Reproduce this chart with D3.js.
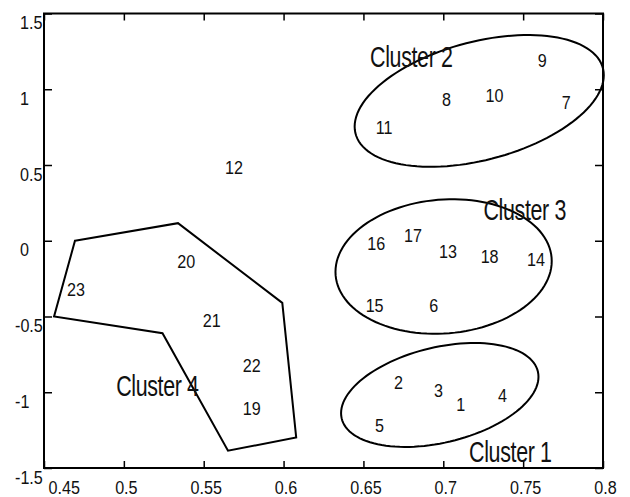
<!DOCTYPE html>
<html>
<head>
<meta charset="utf-8">
<script src="https://cdn.jsdelivr.net/npm/d3@7"></script>
<style>
  body { margin: 0; background: #fff; }
  text { font-family: "Liberation Sans", Arial, sans-serif; fill: #111; }
</style>
</head>
<body>
<div id="chart"></div>
<script>
// point labels and their positions
const pointIds = ["1","2","3","4","5","6","7","8","9","10","11","12","13","14","15","16","17","18","19","20","21","22","23"];
const pointX = [0.711,0.672,0.697,0.737,0.660,0.694,0.777,0.702,0.762,0.732,0.663,0.569,0.703,0.758,0.657,0.658,0.681,0.729,0.580,0.539,0.555,0.580,0.470];
const pointY = [-1.076,-0.933,-0.988,-1.017,-1.214,-0.423,0.914,0.936,1.189,0.962,0.753,0.485,-0.067,-0.119,-0.423,-0.016,0.039,-0.104,-1.104,-0.133,-0.526,-0.819,-0.319];

// cluster names and label positions
const clusterNames = ["Cluster 1","Cluster 2","Cluster 3","Cluster 4"];
const clusterLabelX = [0.742,0.680,0.751,0.521];
const clusterLabelY = [-1.391,1.215,0.204,-0.955];

// ellipses for clusters 1-3 : centre, half widths, tilt (cos of phase)
const ellipseCx = [0.6978,0.7225,0.7002];
const ellipseCy = [-1.018,0.923,-0.170];
const ellipseAx = [0.0618,0.078,0.0677];
const ellipseAy = [0.343,0.435,0.444];
const ellipseTilt = [0.35,0.39,0.08];

// polygon for cluster 4
const hullX = [0.4694,0.5339,0.5992,0.6079,0.5652,0.5242,0.4563];
const hullY = [0.0,0.116,-0.41,-1.298,-1.386,-0.61,-0.5];

const xTicks = [0.45,0.5,0.55,0.6,0.65,0.7,0.75,0.8];
const yTicks = [-1.5,-1,-0.5,0,0.5,1,1.5];

const margin = {top: 13.5, right: 27, bottom: 29, left: 44},
  width = 630 - margin.left - margin.right,
  height = 497 - margin.top - margin.bottom;

// narrow look of the original font
const squeeze = 0.85,
  squeezeBig = 0.74;

const svg = d3.select("#chart")
  .append("svg")
    .attr("width", 630)
    .attr("height", 497)
  .append("g")
    .attr("transform", "translate(" + margin.left + "," + margin.top + ")");

const x = d3.scaleLinear().domain([0.45, 0.8]).range([0, width]);
const y = d3.scaleLinear().domain([-1.5, 1.5]).range([height, 0]);

const fmt = function (d) { return String(d); };

// axes, ticks pointing inward
let xAxis = svg.append("g")
  .attr("transform", `translate(0, ${height})`)
  .call(d3.axisBottom(x).tickValues(xTicks).tickSizeInner(-7).tickSizeOuter(0).tickPadding(12.5).tickFormat(fmt));
xAxis.selectAll("text")
  .style("font-size", "19px")
  .attr("text-anchor", function (d, i) { return i == 0 ? "start" : "middle"; })
  .attr("x", 0)
  .attr("transform", function (d, i) { return "translate(" + (i == 0 ? 4 : 2) + ",0) scale(" + squeeze + ",1)"; });

let yAxis = svg.append("g")
  .call(d3.axisLeft(y).tickValues(yTicks).tickSizeInner(-8).tickSizeOuter(0).tickFormat(fmt));
yAxis.selectAll("text")
  .style("font-size", "19px")
  .attr("text-anchor", "start")
  .attr("x", 0)
  .attr("dy", 15)
  .attr("transform", function (d) { return "translate(" + (d < 0 ? -29 : -24) + ",0) scale(" + squeeze + ",1)"; });

svg.append("g")
  .attr("transform", `translate(${width}, 0)`)
  .call(d3.axisRight(y).tickValues(yTicks).tickSizeInner(-8).tickSizeOuter(0).tickFormat(""));
svg.append("g")
  .call(d3.axisTop(x).tickValues(xTicks).tickSizeInner(-7).tickSizeOuter(0).tickFormat(""));

svg.selectAll(".domain").remove();
svg.selectAll(".tick line").attr("stroke-width", 1.5);

svg.append("rect")
  .attr("width", width)
  .attr("height", height)
  .attr("fill", "none")
  .attr("stroke", "#000")
  .attr("stroke-width", 2);

// ellipses
const steps = d3.range(0, 361, 3);
let line = d3.line()
  .x(function (d) { return x(d[0]); })
  .y(function (d) { return y(d[1]); });

ellipseCx.forEach(function (cx, i) {
  let phi = Math.acos(ellipseTilt[i]);
  let pts = steps.map(function (deg) {
    let t = deg * Math.PI / 180;
    return [cx + ellipseAx[i] * Math.cos(t), ellipseCy[i] + ellipseAy[i] * Math.cos(t - phi)];
  });
  svg.append("path")
    .attr("d", line(pts) + "Z")
    .attr("fill", "none")
    .attr("stroke", "#000")
    .attr("stroke-width", 2);
});

// cluster 4 outline
svg.append("path")
  .attr("d", line(hullX.map(function (d, i) { return [d, hullY[i]]; })) + "Z")
  .attr("fill", "none")
  .attr("stroke", "#000")
  .attr("stroke-width", 2);

// point labels
svg.selectAll(".pt")
  .data(pointIds)
  .enter().append("text")
  .attr("class", "pt")
  .attr("transform", function (d, i) { return "translate(" + x(pointX[i]) + "," + y(pointY[i]) + ") scale(" + squeeze + ",1)"; })
  .attr("dy", "0.36em")
  .attr("text-anchor", "middle")
  .style("font-size", "19px")
  .text(function (d) { return d; });

// cluster names
svg.selectAll(".cl")
  .data(clusterNames)
  .enter().append("text")
  .attr("class", "cl")
  .attr("transform", function (d, i) { return "translate(" + x(clusterLabelX[i]) + "," + y(clusterLabelY[i]) + ") scale(" + squeezeBig + ",1)"; })
  .attr("dy", "0.36em")
  .attr("text-anchor", "middle")
  .style("font-size", "29px")
  .style("letter-spacing", "-0.5px")
  .text(function (d) { return d; });
</script>
</body>
</html>
